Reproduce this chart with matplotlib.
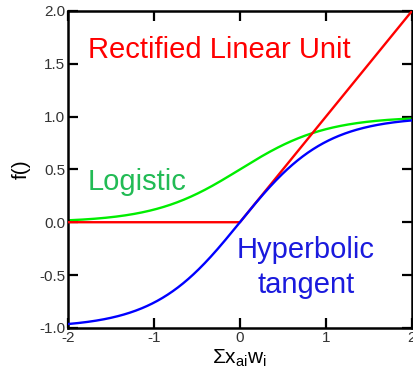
import numpy as np
import matplotlib
matplotlib.use("Agg")
from matplotlib import pyplot as plt

plt.rcParams['font.family'] = ['Liberation Sans', 'DejaVu Sans']
plt.rcParams['mathtext.fontset'] = 'custom'
plt.rcParams['mathtext.rm'] = 'Liberation Sans'

# input range and the three activation curves
x = np.linspace(-2, 2, 401)
relu = np.maximum(0, x)
logistic = 1 / (1 + np.exp(-2 * x))
tanh = np.tanh(x)

xticks = [-2, -1, 0, 1, 2]
yticks = [-1.0, -0.5, 0.0, 0.5, 1.0, 1.5, 2.0]

fig = plt.figure(figsize=(4.14, 3.79), dpi=100)
ax = fig.add_axes([0.164, 0.135, 0.831, 0.836])

ax.plot(x, relu, color='#ff0000', lw=1.7, zorder=3)
ax.plot(x, logistic, color='#00ee00', lw=1.7, zorder=2)
ax.plot(x, tanh, color='#0000ff', lw=1.7, zorder=4)

ax.set_xlim(-2, 2)
ax.set_ylim(-1, 2)
ax.set_xticks(xticks)
ax.set_yticks(yticks)
ax.set_xticklabels([str(t) for t in xticks])
ax.set_yticklabels(['%.1f' % t for t in yticks])
ax.tick_params(direction='in', length=7, width=1.6, top=True, right=True,
               labelsize=11, labelcolor='#333333', pad=2)
for s in ax.spines.values():
    s.set_linewidth(1.8)

ax.set_ylabel('f()', fontsize=15, labelpad=6)
ax.set_xlabel(r'$\Sigma\mathrm{x}_{\mathrm{ai}}\mathrm{w}_{\mathrm{i}}$', fontsize=15, labelpad=2)

lab = dict(fontsize=21, va='center')
ax.text(-1.77, 1.63, 'Rectified Linear Unit', color='#ff0000', **lab)
ax.text(-1.77, 0.38, 'Logistic', color='#22bb55', **lab)
ax.text(-0.035, -0.26, 'Hyperbolic', color='#1a1add', **lab)
ax.text(0.20, -0.59, 'tangent', color='#1a1add', **lab)

fig.savefig('out.png', dpi=100)
